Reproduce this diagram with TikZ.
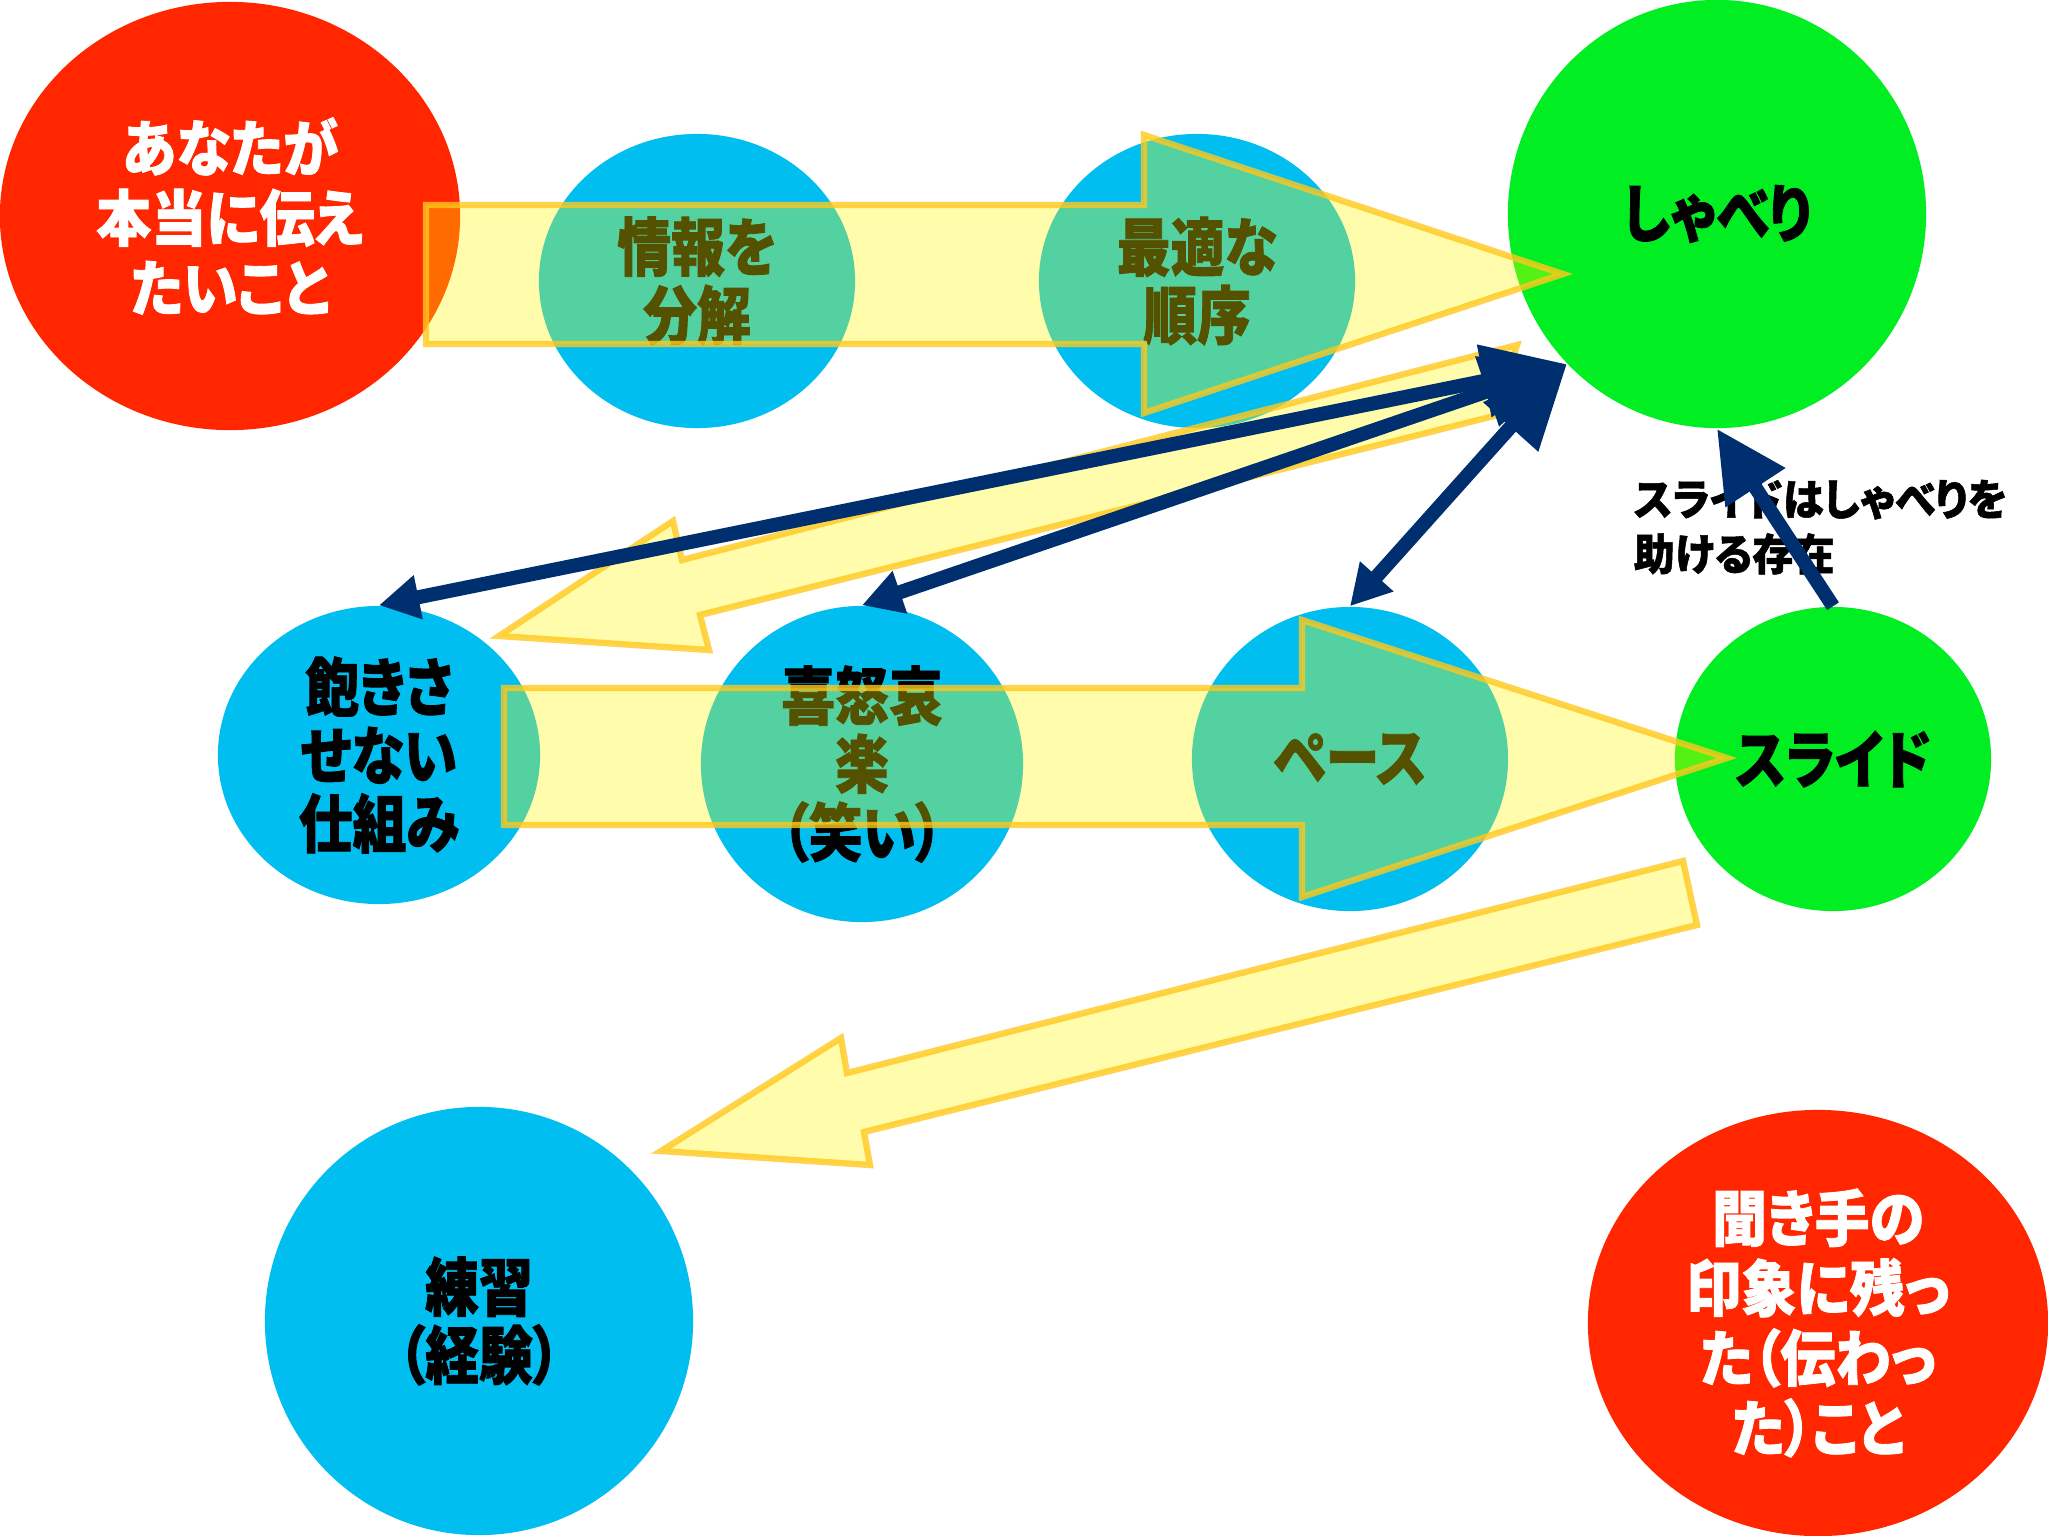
\documentclass[tikz,border=0pt]{standalone}
\usepackage{fontspec}
\usetikzlibrary{shapes.geometric,arrows.meta}
\newfontfamily\jpc{Noto Sans CJK JP}[FakeStretch=0.85,RawFeature=+palt,BoldFeatures={FakeBold=1.3}]
\newfontfamily\jpw{Noto Sans CJK JP}[FakeStretch=0.9,RawFeature=+palt,BoldFeatures={FakeBold=1.3}]
\newfontfamily\jpl{Noto Sans CJK JP}[FakeStretch=0.95,RawFeature=+palt,BoldFeatures={FakeBold=1.2}]
\definecolor{cred}{RGB}{255,38,0}
\definecolor{cblue}{RGB}{0,190,240}
\definecolor{cgreen}{RGB}{0,238,34}
\definecolor{cnavy}{RGB}{0,47,112}
\definecolor{yfill}{RGB}{255,250,0}
\definecolor{yedge}{RGB}{255,200,30}
\begin{document}
\begin{tikzpicture}[x=0.01cm,y=-0.01cm,
  blob/.style={ellipse, inner sep=0pt, align=center, text=black,
    font=\jpc\bfseries\fontsize{18pt}{19.4pt}\selectfont},
  redblob/.style={blob, fill=cred, text=white,
    font=\jpw\bfseries\fontsize{17.4pt}{19.9pt}\selectfont},
  blueblob/.style={blob, fill=cblue},
  greenblob/.style={blob, fill=cgreen},
  bigarrow/.style={fill=yfill, fill opacity=0.33, draw=yedge, draw opacity=0.8,
    line width=1.8pt, line join=miter},
  link/.style={draw=cnavy, line width=4pt},
  bothtips/.style={link, {Triangle[length=11.4pt,width=12pt]}-{Triangle[length=24pt,width=20pt]}},
  onetip/.style={link, -{Triangle[length=20pt,width=19.3pt]}}
]
\useasboundingbox (0,0) rectangle (2048,1536);
\fill[white] (0,0) rectangle (2048,1536);

% ellipses with their texts
\node[redblob, minimum width=4.60cm, minimum height=4.28cm] (want) at (230,216) {あなたが\\本当に伝え\\たいこと};
\node[blueblob, minimum width=3.16cm, minimum height=2.94cm] (info) at (697,281) {情報を\\分解};
\node[blueblob, minimum width=3.16cm, minimum height=2.94cm] (order) at (1197,281) {最適な\\順序};
\node[greenblob, minimum width=4.18cm, minimum height=4.28cm] (talk) at (1717,214) {しゃべり};
\node[blueblob, minimum width=3.22cm, minimum height=2.98cm] (bored) at (379,755) {飽きさ\\せない\\仕組み};
\node[blueblob, minimum width=3.22cm, minimum height=3.16cm] (emo) at (862,764) {喜怒哀\\楽\\（笑い）};
\node[blueblob, minimum width=3.16cm, minimum height=3.04cm] (pace) at (1350,759) {ペース};
\node[greenblob, minimum width=3.16cm, minimum height=3.04cm] (slide) at (1833,759) {スライド};
\node[blueblob, minimum width=4.28cm, minimum height=4.28cm] (prac) at (479,1321) {練習\\（経験）};
\node[redblob, minimum width=4.60cm, minimum height=4.26cm] (heard) at (1818,1323) {聞き手の\\印象に残っ\\た（伝わっ\\た）こと};

% translucent block arrows
\path[bigarrow] (426,205) -- (1144,205) -- (1144,135) -- (1563,274) -- (1144,413) -- (1144,344) -- (426,344) -- cycle;
\path[bigarrow] (504,688) -- (1302,688) -- (1302,620) -- (1727,758) -- (1302,897) -- (1302,825) -- (504,825) -- cycle;
\path[bigarrow] (1517,345) -- (682,560) -- (673,521) -- (499,636) -- (709,650) -- (700,615) -- (1494,416) -- cycle;
\path[bigarrow] (1683,861) -- (847,1073) -- (841,1038) -- (661,1151) -- (870,1165) -- (864,1132) -- (1697,925) -- cycle;

% label
\node[anchor=west, align=left, inner sep=0pt,
  font=\jpl\bfseries\fontsize{12.3pt}{15.6pt}\selectfont] (note) at (1633,527) {スライドはしゃべりを\\助ける存在};

% navy connectors
\draw[bothtips] (bored.north) -- (talk.225);
\draw[bothtips] (emo.north) -- (talk.225);
\draw[bothtips] (pace.north) -- (talk.225);
\draw[onetip] (slide.north) -- (talk.south);
\end{tikzpicture}
\end{document}
